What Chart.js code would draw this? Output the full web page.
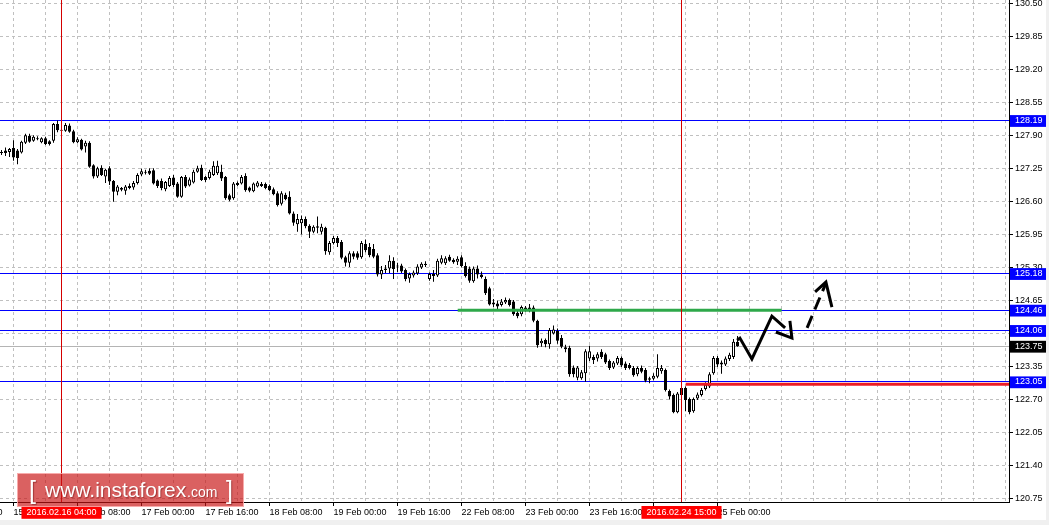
<!DOCTYPE html>
<html>
<head>
<meta charset="utf-8">
<title>USDJPY H1</title>
<script src="https://cdn.jsdelivr.net/npm/chart.js@4.4.1/dist/chart.umd.min.js"></script>
<style>
    html, body { margin: 0; padding: 0; background: #f0f0f0; }
    #contenedor { position: relative; width: 1046px; height: 520px; background: #fff; overflow: hidden; }
    #logo {
        position: absolute; left: 17px; top: 473px; width: 227px; height: 34px;
        box-sizing: border-box; border: 1px solid rgba(255, 190, 190, 0.8);
        background: rgba(200, 20, 20, 0.67); color: #fff;
        font-family: "Liberation Sans", Arial, sans-serif;
        text-shadow: 1px 1px 1px rgba(90, 0, 0, 0.45);
    }
    #logo span { position: absolute; white-space: pre; }
    #logo .corchete { font-size: 25px; line-height: 25px; top: 4px; }
    #logo .web { font-size: 21px; line-height: 21px; left: 27px; top: 5px; }
    #logo .com { font-size: 14px; line-height: 14px; left: 169px; top: 11px; }
</style>
</head>
<body>
<div id="contenedor">
    <canvas id="grafico"></canvas>
    <div id="logo"><span class="corchete" style="left:11px">[</span><span class="web">www.instaforex</span><span class="com">.com</span><span class="corchete" style="left:208px">]</span></div>
</div>
<script>
// velas H1, desde 15 Feb 13:00 hasta 25 Feb 05:00
const apertura = [
    127.55, 127.60, 127.57, 127.65, 127.60, 127.56, 127.75, 127.89, 127.79, 127.84,
    127.76, 127.84, 127.78, 127.79, 128.12, 127.99, 127.99, 128.09, 127.98, 127.76,
    127.81, 127.68, 127.75, 127.31, 127.09, 127.26, 127.09, 127.25, 127.00, 126.79,
    126.86, 126.81, 126.86, 126.87, 126.96, 127.13, 127.18, 127.20, 127.21, 127.01,
    127.00, 126.84, 126.90, 127.07, 126.95, 126.69, 127.08, 126.91, 126.97, 127.18,
    127.26, 127.08, 127.06, 127.12, 127.15, 127.18, 127.08, 126.72, 126.66, 126.92,
    126.95, 127.10, 126.87, 126.80, 126.89, 126.94, 126.94, 126.90, 126.84, 126.76,
    126.55, 126.73, 126.69, 126.36, 126.15, 126.17, 126.25, 126.12, 126.00, 126.11,
    126.00, 126.08, 125.60, 125.78, 125.88, 125.80, 125.50, 125.39, 125.58, 125.58,
    125.50, 125.76, 125.70, 125.66, 125.54, 125.16, 125.25, 125.28, 125.43, 125.32,
    125.34, 125.25, 125.08, 125.14, 125.18, 125.30, 125.37, 125.07, 125.13, 125.14,
    125.39, 125.38, 125.51, 125.45, 125.41, 125.50, 125.33, 125.28, 125.03, 125.28,
    125.16, 125.07, 124.89, 124.61, 124.59, 124.56, 124.61, 124.66, 124.63, 124.41,
    124.38, 124.51, 124.51, 124.51, 124.25, 123.81, 123.87, 123.79, 124.00, 124.05,
    123.91, 123.73, 123.72, 123.33, 123.13, 123.12, 123.22, 123.51, 123.54, 123.51,
    123.64, 123.59, 123.46, 123.33, 123.41, 123.52, 123.41, 123.38, 123.32, 123.20,
    123.32, 123.28, 123.12, 123.11, 123.15, 123.26, 123.28, 122.87, 122.79, 122.45,
    122.93, 122.93, 122.71, 122.47, 122.72, 122.79, 122.91, 122.96, 123.22, 123.52,
    123.43, 123.39, 123.50, 123.54, 123.84
];
const maximo = [
    127.61, 127.66, 127.65, 127.80, 127.63, 127.79, 127.93, 127.93, 127.90, 127.88,
    127.86, 127.87, 127.80, 128.14, 128.19, 128.02, 128.14, 128.13, 128.01, 127.86,
    127.83, 127.79, 127.78, 127.33, 127.28, 127.31, 127.24, 127.29, 127.02, 126.92,
    126.88, 126.92, 126.95, 127.00, 127.15, 127.24, 127.22, 127.25, 127.25, 127.03,
    127.05, 127.00, 127.10, 127.12, 126.98, 127.10, 127.12, 127.07, 127.22, 127.30,
    127.32, 127.10, 127.22, 127.39, 127.40, 127.32, 127.10, 126.75, 126.98, 126.99,
    127.12, 127.15, 126.89, 126.97, 127.00, 126.98, 126.97, 126.93, 126.87, 126.80,
    126.80, 126.77, 126.80, 126.40, 126.35, 126.32, 126.30, 126.15, 126.13, 126.30,
    126.16, 126.10, 125.82, 125.92, 125.92, 125.84, 125.53, 125.62, 125.62, 125.62,
    125.82, 125.85, 125.78, 125.76, 125.58, 125.33, 125.35, 125.54, 125.50, 125.39,
    125.37, 125.28, 125.20, 125.24, 125.36, 125.40, 125.42, 125.20, 125.25, 125.47,
    125.54, 125.52, 125.55, 125.48, 125.52, 125.54, 125.40, 125.32, 125.32, 125.34,
    125.22, 125.12, 124.92, 124.68, 124.65, 124.68, 124.71, 124.69, 124.66, 124.46,
    124.55, 124.54, 124.58, 124.55, 124.27, 123.90, 123.90, 124.11, 124.16, 124.10,
    123.97, 123.78, 123.76, 123.37, 123.36, 123.28, 123.69, 123.76, 123.58, 123.63,
    123.69, 123.62, 123.49, 123.46, 123.56, 123.55, 123.45, 123.42, 123.36, 123.35,
    123.37, 123.32, 123.15, 123.22, 123.59, 123.38, 123.31, 122.90, 122.82, 122.85,
    122.98, 122.96, 122.74, 122.74, 122.84, 122.93, 123.04, 123.24, 123.56, 123.56,
    123.47, 123.55, 123.62, 123.89, 123.95
];
const minimo = [
    127.51, 127.49, 127.47, 127.40, 127.33, 127.54, 127.73, 127.75, 127.77, 127.80,
    127.74, 127.71, 127.70, 127.75, 127.96, 127.96, 127.97, 127.95, 127.74, 127.74,
    127.60, 127.56, 127.26, 127.05, 127.06, 127.10, 126.96, 126.92, 126.59, 126.72,
    126.80, 126.73, 126.84, 126.83, 126.93, 127.10, 127.13, 127.12, 126.93, 126.86,
    126.82, 126.80, 126.88, 126.88, 126.67, 126.67, 126.86, 126.89, 126.95, 127.16,
    127.00, 126.98, 127.03, 127.10, 127.12, 127.00, 126.63, 126.60, 126.63, 126.90,
    126.93, 126.79, 126.78, 126.78, 126.87, 126.88, 126.84, 126.80, 126.72, 126.50,
    126.52, 126.62, 126.34, 126.12, 126.00, 125.95, 126.07, 125.88, 125.97, 125.97,
    125.95, 125.55, 125.55, 125.75, 125.70, 125.46, 125.32, 125.31, 125.46, 125.45,
    125.47, 125.60, 125.50, 125.48, 125.12, 125.07, 125.19, 125.19, 125.07, 125.21,
    125.19, 125.03, 125.00, 125.10, 125.15, 125.27, 125.31, 125.04, 125.02, 125.11,
    125.36, 125.35, 125.41, 125.37, 125.35, 125.30, 125.10, 125.00, 125.00, 125.08,
    125.08, 124.76, 124.55, 124.52, 124.48, 124.53, 124.58, 124.53, 124.35, 124.30,
    124.34, 124.43, 124.42, 124.22, 123.72, 123.74, 123.73, 123.70, 123.98, 123.80,
    123.71, 123.63, 123.15, 123.14, 123.08, 123.09, 123.05, 123.46, 123.40, 123.45,
    123.50, 123.40, 123.28, 123.30, 123.38, 123.34, 123.28, 123.29, 123.15, 123.16,
    123.22, 123.04, 123.02, 123.08, 123.12, 123.21, 122.86, 122.70, 122.43, 122.43,
    122.75, 122.47, 122.41, 122.44, 122.69, 122.76, 122.88, 122.93, 123.19, 123.34,
    123.21, 123.36, 123.46, 123.50, 123.74
];
const cierre = [
    127.57, 127.55, 127.63, 127.46, 127.45, 127.77, 127.90, 127.77, 127.87, 127.82,
    127.84, 127.73, 127.73, 128.12, 128.00, 128.00, 128.10, 127.97, 127.76, 127.82,
    127.62, 127.75, 127.28, 127.09, 127.25, 127.12, 127.22, 126.99, 126.79, 126.89,
    126.83, 126.89, 126.90, 126.96, 127.12, 127.19, 127.16, 127.14, 126.95, 126.90,
    126.86, 126.98, 127.06, 126.92, 126.69, 127.08, 126.89, 127.03, 127.18, 127.25,
    127.02, 127.02, 127.18, 127.30, 127.30, 127.05, 126.66, 126.63, 126.95, 126.96,
    127.08, 126.82, 126.81, 126.95, 126.97, 126.90, 126.86, 126.82, 126.74, 126.53,
    126.76, 126.64, 126.36, 126.18, 126.25, 126.25, 126.11, 126.00, 126.10, 126.08,
    126.10, 125.62, 125.78, 125.88, 125.78, 125.49, 125.39, 125.58, 125.51, 125.49,
    125.78, 125.64, 125.54, 125.51, 125.16, 125.25, 125.28, 125.43, 125.27, 125.34,
    125.22, 125.07, 125.17, 125.20, 125.32, 125.37, 125.35, 125.17, 125.17, 125.43,
    125.48, 125.48, 125.43, 125.40, 125.47, 125.33, 125.13, 125.04, 125.28, 125.16,
    125.11, 124.79, 124.57, 124.57, 124.53, 124.63, 124.66, 124.56, 124.38, 124.34,
    124.52, 124.46, 124.45, 124.25, 123.77, 123.86, 123.79, 124.07, 124.08, 123.86,
    123.74, 123.69, 123.20, 123.20, 123.33, 123.24, 123.65, 123.65, 123.48, 123.59,
    123.54, 123.43, 123.32, 123.43, 123.52, 123.37, 123.32, 123.32, 123.18, 123.32,
    123.25, 123.07, 123.09, 123.17, 123.32, 123.32, 122.89, 122.76, 122.45, 122.82,
    122.79, 122.69, 122.45, 122.71, 122.80, 122.89, 122.99, 123.20, 123.52, 123.39,
    123.39, 123.51, 123.58, 123.84, 123.75
];

// eje de tiempo: indice de vela -> etiqueta
const indiceEtiquetas = [-13, 3, 19, 35, 51, 67, 83, 99, 115, 131, 147, 163, 179];
const etiquetasX = ['15 Feb 00:00', '15 Feb 16:00', '16 Feb 08:00', '17 Feb 00:00', '17 Feb 16:00',
    '18 Feb 08:00', '19 Feb 00:00', '19 Feb 16:00', '22 Feb 08:00', '23 Feb 00:00',
    '23 Feb 16:00', '24 Feb 08:00', '25 Feb 00:00'];
const indiceCruz = [15, 170];
const textoCruz = ['2016.02.16 04:00', '2016.02.24 15:00'];

// eje de precios
const ticksPrecio = [120.75, 121.40, 122.05, 122.70, 123.35, 124.00, 124.65, 125.30,
    125.95, 126.60, 127.25, 127.90, 128.55, 129.20, 129.85, 130.50];
const niveles = [128.19, 125.18, 124.46, 124.06, 123.05];
const precioBid = 123.75;
const precioMin = 120.686;
const precioMax = 130.56;

// lineas dibujadas a mano
const verdeX = [114.05, 195.05];
const verdeY = [124.46, 124.46];
const rojaX = [171.05, 252];
const rojaY = [123.00, 123.00];
const zigX = [183.9, 184.6, 187.6, 192.6, 195.9];
const zigY = [123.87, 123.91, 123.50, 124.34, 124.11];
const puntaX = [193.6, 197.6, 197.1];
const puntaY = [124.03, 123.91, 124.25];
const trazoX = [201.4, 206.1];
const trazoY = [124.11, 124.99];
const punta2X = [203.4, 206.1, 207.6];
const punta2Y = [124.82, 125.01, 124.52];

const fuente = '"Liberation Sans", Arial, sans-serif';
const pxPorBarra = 4;

const medida = document.createElement('canvas').getContext('2d');
medida.font = '9px ' + fuente;

const ticksX = [];
for (let i = 3; i <= 251; i += 8) {
    const n = indiceEtiquetas.indexOf(i);
    ticksX.push({ value: i, tipo: n >= 0 ? 'etiqueta' : 'rejilla', texto: n >= 0 ? etiquetasX[n] : '' });
}
indiceEtiquetas.forEach((v, n) => {
    if (v < 3) ticksX.push({ value: v, tipo: 'etiqueta', texto: etiquetasX[n] });
});
indiceCruz.forEach((v, n) => {
    const w = medida.measureText(textoCruz[n]).width;
    ticksX.push({ value: v - w / 2 / pxPorBarra, tipo: 'cruz', texto: textoCruz[n] });
});

const ticksY = ticksPrecio.map(v => ({ value: v, tipo: 'rejilla' }));
ticksY.push({ value: precioBid, tipo: 'bid' });
niveles.forEach(v => ticksY.push({ value: v, tipo: 'nivel' }));

const tipo = c => (c.tick ? c.tick.tipo : '');
const puntos = (xs, ys) => xs.map((x, i) => ({ x: x, y: ys[i] }));
const linea = (datos, color, ancho, orden, extra) => Object.assign({
    type: 'line', data: datos, borderColor: color, borderWidth: ancho,
    pointRadius: 0, fill: false, tension: 0, order: orden
}, extra || {});

const mechas = apertura.map((_, i) => ({ x: i, y: [minimo[i], maximo[i]] }));
const cuerpos = apertura.map((o, i) => ({ x: i, y: [o, cierre[i]] }));
const colores = apertura.map((o, i) => (cierre[i] >= o ? '#ffffff' : '#000000'));

const ctx = document.getElementById('grafico').getContext('2d');
new Chart(ctx, {
    type: 'bar',
    data: {
        datasets: [
            {
                data: mechas, backgroundColor: '#000', borderWidth: 0, grouped: false,
                categoryPercentage: 1, barPercentage: 1, maxBarThickness: 1, inflateAmount: 0, order: 6
            },
            {
                data: cuerpos, backgroundColor: colores, borderColor: '#000', borderWidth: 1,
                borderSkipped: false, grouped: false, categoryPercentage: 1, barPercentage: 1,
                maxBarThickness: 3, minBarLength: 1, inflateAmount: 0, order: 5
            },
            linea(puntos(verdeX, verdeY), '#2ea84a', 3, 4),
            linea(puntos(rojaX, rojaY), '#ec1c24', 3, 4),
            linea(puntos([indiceCruz[0], indiceCruz[0]], [precioMin, precioMax]), '#d40000', 1, 3),
            linea(puntos([indiceCruz[1], indiceCruz[1]], [precioMin, precioMax]), '#d40000', 1, 3),
            linea(puntos(zigX, zigY), '#000', 3, 1),
            linea(puntos(puntaX, puntaY), '#000', 3, 1),
            linea(puntos(trazoX, trazoY), '#000', 3, 1, { borderDash: [13, 7] }),
            linea(puntos(punta2X, punta2Y), '#000', 3, 1)
        ]
    },
    options: {
        responsive: true,
        maintainAspectRatio: false,
        animation: false,
        events: [],
        layout: { padding: 0 },
        plugins: { legend: { display: false }, tooltip: { enabled: false } },
        font: { family: fuente, size: 9 },
        scales: {
            x: {
                type: 'linear', position: 'bottom', min: -0.375, max: 251.875, offset: false,
                afterBuildTicks: eje => { eje.ticks = ticksX; },
                afterFit: eje => { eje.height = 18; eje.paddingLeft = 0; eje.paddingRight = 0; },
                grid: {
                    offset: false, lineWidth: 1, tickLength: 4,
                    color: c => (tipo(c) === 'rejilla' || tipo(c) === 'etiqueta' ? '#c0c0c0' : 'transparent'),
                    tickColor: c => (tipo(c) === 'etiqueta' ? '#000' : 'transparent')
                },
                border: { display: true, color: '#000', width: 1, dash: c => (tipo(c) === 'cruz' ? [] : [3, 3]) },
                ticks: {
                    align: 'start', maxRotation: 0, autoSkip: false, padding: 1,
                    font: { family: fuente, size: 9 },
                    color: c => (tipo(c) === 'cruz' ? '#fff' : '#000'),
                    callback: (v, i, t) => t[i].texto,
                    showLabelBackdrop: c => tipo(c) === 'cruz',
                    backdropColor: '#ff0000',
                    backdropPadding: { left: 5, right: 5, top: 1, bottom: 1 }
                }
            },
            y: {
                type: 'linear', position: 'right', min: precioMin, max: precioMax, beginAtZero: false,
                afterBuildTicks: eje => { eje.ticks = ticksY; },
                afterFit: eje => { eje.width = 37; eje.paddingTop = 0; eje.paddingBottom = 0; },
                grid: {
                    lineWidth: 1, tickLength: 4,
                    color: c => {
                        const t = tipo(c);
                        if (t === 'rejilla') return '#c0c0c0';
                        if (t === 'nivel') return '#0000ff';
                        if (t === 'bid') return '#b4b4b4';
                        return 'transparent';
                    },
                    tickColor: c => (tipo(c) === 'rejilla' ? '#000' : 'transparent')
                },
                border: { display: true, color: '#000', width: 1, dash: c => (tipo(c) === 'rejilla' ? [3, 3] : []) },
                ticks: {
                    autoSkip: false, padding: 2,
                    font: { family: fuente, size: 9 },
                    color: c => (tipo(c) === 'rejilla' ? '#000' : '#fff'),
                    callback: v => v.toFixed(2),
                    showLabelBackdrop: c => tipo(c) === 'nivel' || tipo(c) === 'bid',
                    backdropColor: c => (tipo(c) === 'bid' ? '#000' : '#0000ff'),
                    backdropPadding: { left: 5, right: 4, top: 0, bottom: 1 }
                }
            }
        }
    }
});
</script>
</body>
</html>
